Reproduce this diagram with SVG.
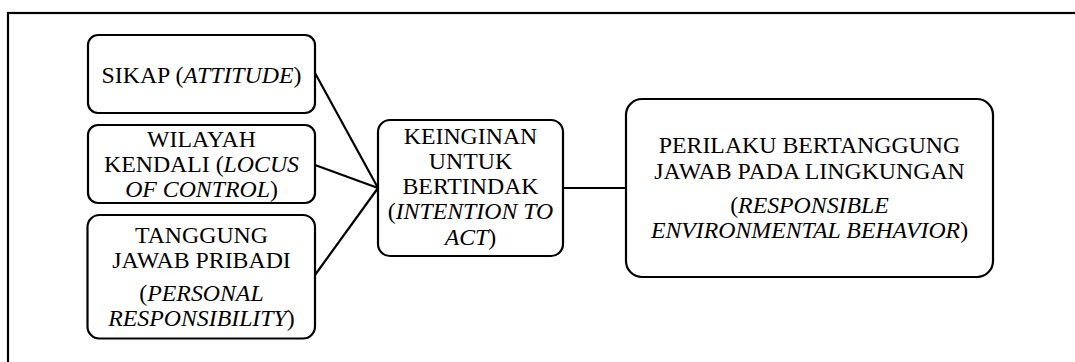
<svg xmlns="http://www.w3.org/2000/svg" width="1075" height="362" viewBox="0 0 1075 362">
<style>
.box{fill:#fff;stroke:#000;stroke-width:2.2}
.t{font-family:"Liberation Serif","Times New Roman",serif;font-size:23.8px;fill:#000;text-anchor:middle}
.i{font-style:italic}
.c{stroke:#000;stroke-width:2.2;fill:none}
</style>
<rect x="0" y="0" width="1075" height="362" fill="#fff"/>
<rect id="frame" x="8" y="13" width="1080" height="360" fill="none" stroke="#000" stroke-width="2.2"/>
<g id="connectors">
<line class="c" x1="315" y1="73" x2="378" y2="188"/>
<line class="c" x1="315" y1="165" x2="378" y2="188"/>
<line class="c" x1="315" y1="275" x2="378" y2="188"/>
<line class="c" x1="563" y1="188" x2="626" y2="188"/>
</g>
<g id="sikap">
<rect class="box" x="88" y="35" width="227" height="78" rx="10"/>
<text class="t" x="201.5" y="83">SIKAP (<tspan class="i">ATTITUDE</tspan>)</text>
</g>
<g id="wilayah">
<rect class="box" x="88" y="125" width="227" height="78" rx="10"/>
<text class="t" x="201.5" y="147">WILAYAH</text>
<text class="t" x="201.5" y="172">KENDALI (<tspan class="i">LOCUS</tspan></text>
<text class="t" x="201.5" y="197"><tspan class="i">OF CONTROL</tspan>)</text>
</g>
<g id="tanggung">
<rect class="box" x="87.5" y="215" width="227.5" height="123.5" rx="12"/>
<text class="t" x="201.5" y="243">TANGGUNG</text>
<text class="t" x="201.5" y="268">JAWAB PRIBADI</text>
<text class="t" x="201.5" y="301">(<tspan class="i">PERSONAL</tspan></text>
<text class="t" x="201.5" y="326"><tspan class="i">RESPONSIBILITY</tspan>)</text>
</g>
<g id="keinginan">
<rect class="box" x="378" y="120" width="185" height="136" rx="12"/>
<text class="t" x="470.5" y="144">KEINGINAN</text>
<text class="t" x="470.5" y="169">UNTUK</text>
<text class="t" x="470.5" y="194">BERTINDAK</text>
<text class="t" x="470.5" y="219">(<tspan class="i">INTENTION TO</tspan></text>
<text class="t" x="470.5" y="245"><tspan class="i">ACT</tspan>)</text>
</g>
<g id="perilaku">
<rect class="box" x="626" y="99" width="367" height="178" rx="16"/>
<text class="t" x="809.5" y="153">PERILAKU BERTANGGUNG</text>
<text class="t" x="809.5" y="179">JAWAB PADA LINGKUNGAN</text>
<text class="t" x="809.5" y="213">(<tspan class="i">RESPONSIBLE</tspan></text>
<text class="t" x="809.5" y="238"><tspan class="i">ENVIRONMENTAL BEHAVIOR</tspan>)</text>
</g>
</svg>
